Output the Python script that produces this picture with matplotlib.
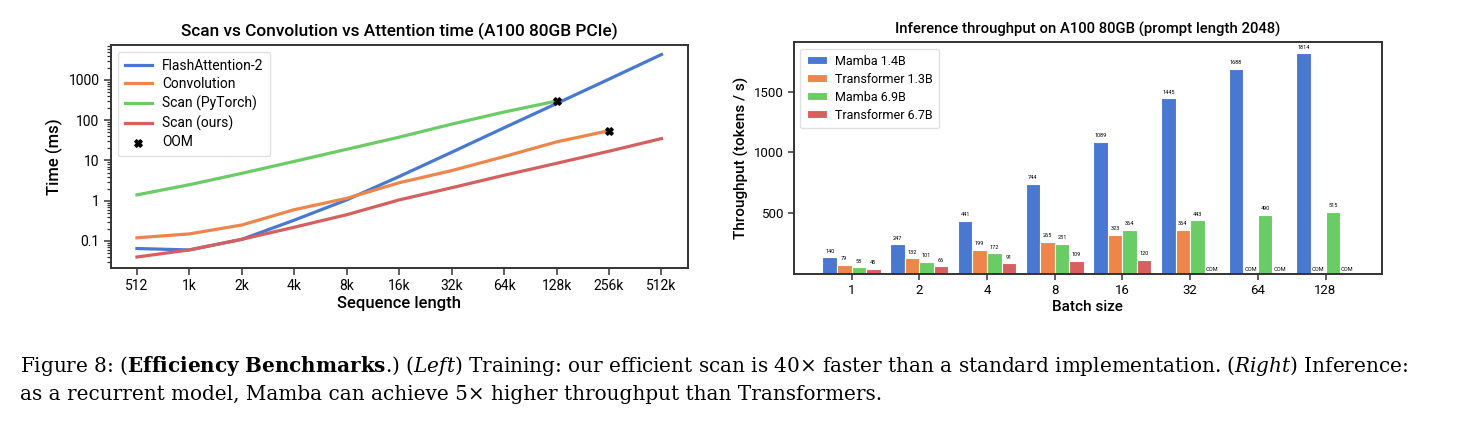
import numpy as np
import matplotlib
matplotlib.use('Agg')
import matplotlib.pyplot as plt

plt.rcParams['font.family'] = ['Roboto', 'DejaVu Sans']
plt.rcParams['mathtext.fontset'] = 'custom'
plt.rcParams['mathtext.rm'] = 'DejaVu Serif'
plt.rcParams['mathtext.it'] = 'DejaVu Serif:italic'
plt.rcParams['mathtext.bf'] = 'DejaVu Serif:bold'

# Left panel data (time in ms, log scale)
seq_labels = ['512', '1k', '2k', '4k', '8k', '16k', '32k', '64k', '128k', '256k', '512k']
flash_attn = [0.065, 0.06, 0.11, 0.33, 1.05, 4.0, 16, 65, 260, 1050, 4300]
convolution = [0.12, 0.15, 0.25, 0.6, 1.15, 2.8, 5.6, 12.5, 29, 55]
scan_torch = [1.4, 2.5, 4.8, 9.5, 19, 38, 80, 160, 300]
scan_ours = [0.04, 0.06, 0.11, 0.22, 0.45, 1.05, 2.1, 4.3, 8.5, 17, 35]
oom_idx = [8, 9]
oom_vals = [300, 55]

# Right panel data (tokens / s), None = OOM
batch_labels = ['1', '2', '4', '8', '16', '32', '64', '128']
mamba_14 = [140, 247, 441, 744, 1089, 1445, 1688, 1814]
trans_13 = [79, 132, 199, 265, 323, 364, None, None]
mamba_69 = [58, 101, 172, 251, 364, 443, 490, 515]
trans_67 = [45, 66, 91, 109, 120, None, None, None]

blue = '#4878D0'
orange = '#EE854A'
green = '#6ACC64'
red = '#D65F5F'
spine_col = '#333333'

fig = plt.figure(figsize=(14.6, 4.48), dpi=100)

# ---- left: scan vs conv vs attention
ax1 = fig.add_axes([110.7 / 1460, 1 - 267.7 / 448, (687.7 - 110.7) / 1460, (267.7 - 45) / 448])
x = np.arange(len(seq_labels))
ax1.plot(x[:len(flash_attn)], flash_attn, color=blue, lw=2.3, label='FlashAttention-2')
ax1.plot(x[:len(convolution)], convolution, color=orange, lw=2.3, label='Convolution')
ax1.plot(x[:len(scan_torch)], scan_torch, color=green, lw=2.3, label='Scan (PyTorch)')
ax1.plot(x[:len(scan_ours)], scan_ours, color=red, lw=2.3, label='Scan (ours)')
ax1.scatter(oom_idx, oom_vals, marker='X', color='black', s=28, zorder=5, label='OOM')
ax1.set_yscale('log')
ax1.set_ylim(0.0217, 7400)
ax1.set_xlim(-0.5, 10.5)
ax1.set_xticks(x)
ax1.set_xticklabels(seq_labels)
ax1.set_yticks([0.1, 1, 10, 100, 1000])
ax1.set_yticklabels(['0.1', '1', '10', '100', '1000'])
ax1.set_xlabel('Sequence length', fontsize=12, fontweight='medium', labelpad=2)
ax1.set_ylabel('Time (ms)', fontsize=12, fontweight='medium', labelpad=4)
ax1.set_title('Scan vs Convolution vs Attention time (A100 80GB PCIe)', fontsize=12.4,
              fontweight='medium', pad=6)
ax1.tick_params(axis='both', labelsize=10, length=5, width=1.1, color=spine_col, pad=3)
ax1.tick_params(axis='y', which='minor', length=3, width=0.9, color=spine_col)
for s in ax1.spines.values():
    s.set_color(spine_col)
    s.set_linewidth(1.4)
ax1.legend(loc='upper left', fontsize=10, handlelength=2.0, handletextpad=0.7, borderpad=0.5,
           labelspacing=0.32, framealpha=0.9, edgecolor='#dddddd')

# ---- right: inference throughput
ax2 = fig.add_axes([794 / 1460, 1 - 274.3 / 448, (1381.7 - 794) / 1460, (274.3 - 42.3) / 448])
xb = np.arange(len(batch_labels))
w = 0.215
series = [(mamba_14, blue, 'Mamba 1.4B'), (trans_13, orange, 'Transformer 1.3B'),
          (mamba_69, green, 'Mamba 6.9B'), (trans_67, red, 'Transformer 6.7B')]
for k, (vals, col, lab) in enumerate(series):
    off = (k - 1.5) * w
    h = [v if v is not None else 0 for v in vals]
    ax2.bar(xb + off, h, width=w, color=col, edgecolor='white', linewidth=0.8, label=lab)
    for i, v in enumerate(vals):
        if v is None:
            ax2.text(xb[i] + off, 18, 'OOM', ha='center', va='bottom', fontsize=4)
        else:
            ax2.text(xb[i] + off, v + 30, str(v), ha='center', va='bottom', fontsize=4)
ax2.set_xlim(-0.85, 7.83)
ax2.set_ylim(0, 1904.7)
ax2.set_xticks(xb)
ax2.set_xticklabels(batch_labels)
ax2.set_yticks([500, 1000, 1500])
ax2.set_xlabel('Batch size', fontsize=11, fontweight='medium', labelpad=2)
ax2.set_ylabel('Throughput (tokens / s)', fontsize=11, fontweight='medium', labelpad=4)
ax2.set_title('Inference throughput on A100 80GB (prompt length 2048)', fontsize=10.7,
              fontweight='medium', pad=6)
ax2.tick_params(axis='both', labelsize=9.5, length=4, width=1.1, color=spine_col, pad=3)
for s in ax2.spines.values():
    s.set_color(spine_col)
    s.set_linewidth(1.4)
ax2.legend(loc='upper left', fontsize=9, handlelength=1.6, handleheight=0.6, handletextpad=0.7,
           borderpad=0.5, labelspacing=0.4, framealpha=0.9, edgecolor='#dddddd')

# ---- caption
line1 = (r'Figure 8: ($\mathbf{Efficiency\ Benchmarks}$.) ($\mathit{Left}$) Training: our efficient '
         r'scan is 40× faster than a standard implementation. ($\mathit{Right}$) Inference:')
line2 = 'as a recurrent model, Mamba can achieve 5× higher throughput than Transformers.'
fig.text(20 / 1460, 1 - 372 / 448, line1, fontsize=14.45, family='DejaVu Serif', va='baseline')
fig.text(20 / 1460, 1 - 400 / 448, line2, fontsize=14.45, family='DejaVu Serif', va='baseline')

fig.savefig('out.png', dpi=100)
